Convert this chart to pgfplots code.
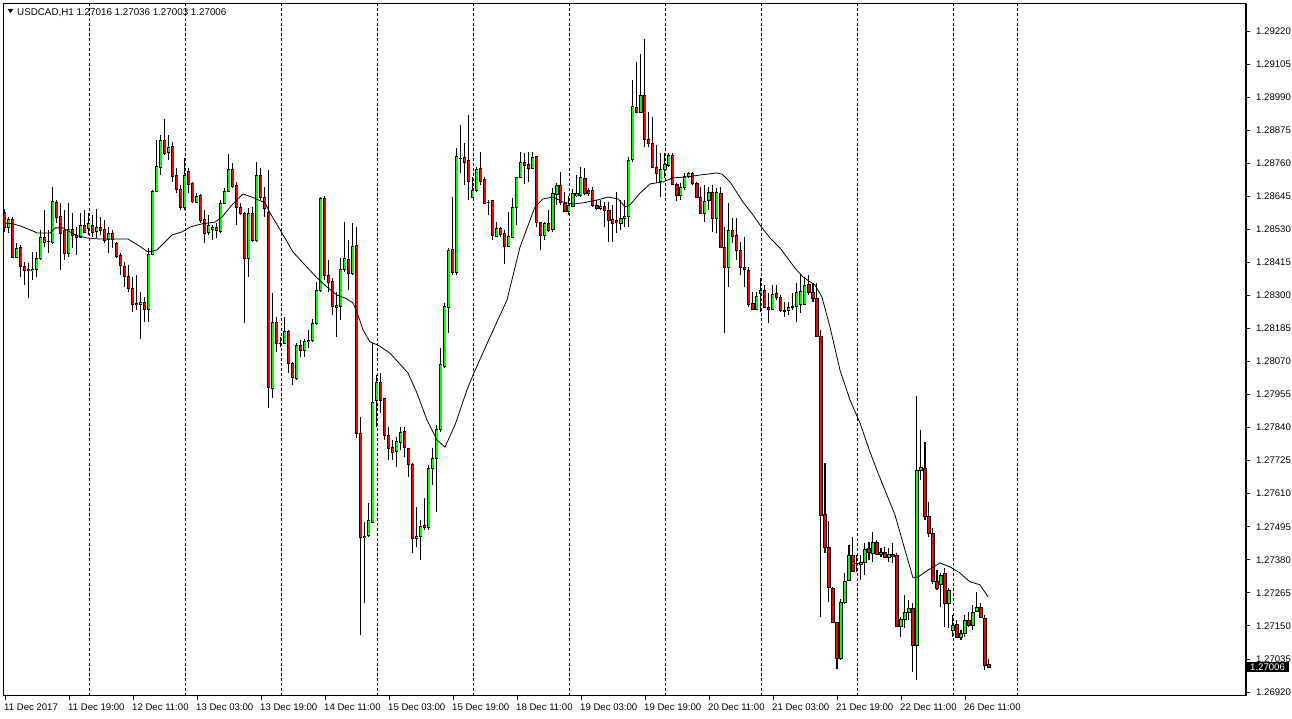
\documentclass[border=0pt]{standalone}
\usepackage{fontspec}
\setmainfont{Liberation Sans}
\usepackage{pgfplots}
\usepackage{pgfplotstable}
\pgfplotsset{compat=1.18}
\definecolor{bull}{RGB}{0,255,0}
\definecolor{bear}{RGB}{255,0,0}
\pgfplotstableread{
i o h l c
0 1.28590 1.28601 1.28521 1.28538
1 1.28538 1.28573 1.28517 1.28566
2 1.28566 1.28573 1.28430 1.28434
3 1.28434 1.28482 1.28430 1.28465
4 1.28465 1.28475 1.28364 1.28399
5 1.28399 1.28416 1.28336 1.28385
6 1.28392 1.28413 1.28294 1.28388
7 1.28388 1.28451 1.28354 1.28392
8 1.28392 1.28451 1.28364 1.28430
9 1.28430 1.28528 1.28423 1.28503
10 1.28503 1.28597 1.28468 1.28486
11 1.28489 1.28528 1.28448 1.28488
12 1.28486 1.28677 1.28482 1.28629
13 1.28625 1.28632 1.28552 1.28573
14 1.28576 1.28622 1.28388 1.28517
15 1.28528 1.28597 1.28423 1.28448
16 1.28448 1.28622 1.28434 1.28531
17 1.28531 1.28587 1.28468 1.28510
18 1.28510 1.28538 1.28441 1.28503
19 1.28503 1.28587 1.28500 1.28545
20 1.28545 1.28597 1.28517 1.28521
21 1.28535 1.28587 1.28510 1.28552
22 1.28545 1.28580 1.28503 1.28521
23 1.28521 1.28601 1.28503 1.28535
24 1.28535 1.28573 1.28510 1.28524
25 1.28531 1.28562 1.28482 1.28493
26 1.28493 1.28538 1.28448 1.28517
27 1.28517 1.28528 1.28465 1.28496
28 1.28482 1.28486 1.28430 1.28434
29 1.28437 1.28448 1.28371 1.28402
30 1.28402 1.28416 1.28329 1.28368
31 1.28368 1.28406 1.28312 1.28326
32 1.28326 1.28364 1.28242 1.28270
33 1.28274 1.28371 1.28249 1.28270
34 1.28270 1.28312 1.28148 1.28277
35 1.28277 1.28294 1.28207 1.28253
36 1.28253 1.28465 1.28207 1.28444
37 1.28444 1.28667 1.28441 1.28663
38 1.28663 1.28841 1.28660 1.28750
39 1.28747 1.28858 1.28719 1.28841
40 1.28841 1.28914 1.28789 1.28796
41 1.28796 1.28858 1.28771 1.28816
42 1.28820 1.28834 1.28695 1.28716
43 1.28716 1.28743 1.28656 1.28670
44 1.28670 1.28684 1.28597 1.28608
45 1.28608 1.28778 1.28597 1.28719
46 1.28733 1.28743 1.28656 1.28688
47 1.28691 1.28695 1.28622 1.28625
48 1.28625 1.28656 1.28622 1.28646
49 1.28649 1.28656 1.28555 1.28562
50 1.28566 1.28597 1.28482 1.28517
51 1.28517 1.28580 1.28510 1.28542
52 1.28531 1.28545 1.28493 1.28538
53 1.28535 1.28555 1.28500 1.28524
54 1.28524 1.28632 1.28517 1.28622
55 1.28622 1.28674 1.28620 1.28663
56 1.28663 1.28792 1.28660 1.28740
57 1.28740 1.28761 1.28674 1.28681
58 1.28684 1.28695 1.28545 1.28608
59 1.28608 1.28622 1.28580 1.28587
60 1.28587 1.28590 1.28204 1.28430
61 1.28430 1.28604 1.28364 1.28587
62 1.28587 1.28608 1.28486 1.28493
63 1.28493 1.28764 1.28486 1.28716
64 1.28716 1.28743 1.28632 1.28642
65 1.28642 1.28677 1.28573 1.28604
66 1.28590 1.28736 1.27908 1.27978
67 1.27978 1.28308 1.27943 1.28207
68 1.28207 1.28225 1.28103 1.28134
69 1.28134 1.28155 1.28120 1.28132
70 1.28134 1.28225 1.28130 1.28176
71 1.28176 1.28180 1.28033 1.28065
72 1.28065 1.28068 1.27988 1.28016
73 1.28013 1.28134 1.28006 1.28127
74 1.28127 1.28145 1.28086 1.28110
75 1.28110 1.28148 1.28086 1.28141
76 1.28141 1.28180 1.28117 1.28145
77 1.28145 1.28221 1.28138 1.28204
78 1.28204 1.28347 1.28197 1.28319
79 1.28319 1.28642 1.28312 1.28636
80 1.28636 1.28646 1.28354 1.28371
81 1.28371 1.28423 1.28312 1.28347
82 1.28347 1.28361 1.28232 1.28260
83 1.28260 1.28312 1.28155 1.28267
84 1.28263 1.28430 1.28214 1.28392
85 1.28392 1.28555 1.28381 1.28430
86 1.28427 1.28493 1.28319 1.28378
87 1.28378 1.28552 1.28371 1.28472
88 1.28475 1.28538 1.27804 1.27821
89 1.27821 1.27877 1.27118 1.27459
90 1.27459 1.27511 1.27230 1.27463
91 1.27466 1.27578 1.27459 1.27518
92 1.27511 1.28134 1.27508 1.27929
93 1.27936 1.28023 1.27842 1.27999
94 1.27999 1.28030 1.27891 1.27936
95 1.27943 1.27946 1.27797 1.27814
96 1.27814 1.27842 1.27727 1.27769
97 1.27772 1.27797 1.27727 1.27755
98 1.27755 1.27807 1.27703 1.27790
99 1.27790 1.27842 1.27762 1.27825
100 1.27825 1.27842 1.27738 1.27769
101 1.27769 1.27770 1.27668 1.27713
102 1.27713 1.27717 1.27404 1.27456
103 1.27456 1.27564 1.27424 1.27463
104 1.27463 1.27518 1.27379 1.27498
105 1.27501 1.27595 1.27484 1.27494
106 1.27494 1.27710 1.27484 1.27699
107 1.27699 1.27769 1.27640 1.27734
108 1.27734 1.27849 1.27546 1.27835
109 1.27832 1.28117 1.27825 1.28058
110 1.28051 1.28274 1.28047 1.28260
111 1.28260 1.28465 1.28169 1.28458
112 1.28458 1.28642 1.28371 1.28378
113 1.28378 1.28813 1.28371 1.28782
114 1.28778 1.28893 1.28726 1.28776
115 1.28782 1.28830 1.28684 1.28764
116 1.28771 1.28928 1.28632 1.28698
117 1.28642 1.28712 1.28639 1.28667
118 1.28667 1.28747 1.28660 1.28740
119 1.28743 1.28799 1.28684 1.28698
120 1.28705 1.28712 1.28620 1.28622
121 1.28625 1.28632 1.28580 1.28623
122 1.28629 1.28632 1.28493 1.28507
123 1.28507 1.28555 1.28503 1.28535
124 1.28535 1.28538 1.28503 1.28514
125 1.28517 1.28528 1.28409 1.28472
126 1.28472 1.28590 1.28468 1.28507
127 1.28503 1.28639 1.28500 1.28608
128 1.28608 1.28714 1.28545 1.28712
129 1.28712 1.28799 1.28709 1.28764
130 1.28764 1.28796 1.28688 1.28754
131 1.28757 1.28799 1.28695 1.28743
132 1.28743 1.28799 1.28740 1.28782
133 1.28782 1.28785 1.28538 1.28552
134 1.28552 1.28555 1.28458 1.28510
135 1.28507 1.28555 1.28493 1.28549
136 1.28552 1.28597 1.28521 1.28528
137 1.28528 1.28674 1.28521 1.28656
138 1.28653 1.28691 1.28615 1.28684
139 1.28684 1.28729 1.28615 1.28622
140 1.28622 1.28660 1.28590 1.28594
141 1.28594 1.28649 1.28580 1.28615
142 1.28611 1.28670 1.28608 1.28653
143 1.28649 1.28719 1.28642 1.28656
144 1.28649 1.28747 1.28642 1.28709
145 1.28709 1.28743 1.28649 1.28656
146 1.28667 1.28674 1.28649 1.28656
147 1.28667 1.28677 1.28608 1.28615
148 1.28615 1.28632 1.28597 1.28604
149 1.28604 1.28632 1.28597 1.28611
150 1.28611 1.28625 1.28538 1.28597
151 1.28597 1.28625 1.28486 1.28562
152 1.28566 1.28615 1.28486 1.28552
153 1.28562 1.28660 1.28517 1.28552
154 1.28552 1.28632 1.28528 1.28569
155 1.28569 1.28632 1.28538 1.28576
156 1.28576 1.28782 1.28538 1.28771
157 1.28771 1.29050 1.28764 1.28956
158 1.28956 1.29112 1.28935 1.28938
159 1.28938 1.29140 1.28935 1.28997
160 1.28997 1.29192 1.28816 1.28844
161 1.28844 1.28938 1.28816 1.28830
162 1.28830 1.28921 1.28743 1.28747
163 1.28747 1.28823 1.28691 1.28726
164 1.28695 1.28796 1.28642 1.28736
165 1.28740 1.28796 1.28709 1.28757
166 1.28754 1.28796 1.28747 1.28789
167 1.28789 1.28796 1.28684 1.28688
168 1.28688 1.28691 1.28629 1.28649
169 1.28649 1.28691 1.28632 1.28677
170 1.28677 1.28726 1.28667 1.28716
171 1.28716 1.28729 1.28709 1.28726
172 1.28726 1.28729 1.28684 1.28691
173 1.28691 1.28695 1.28639 1.28642
174 1.28642 1.28677 1.28583 1.28587
175 1.28587 1.28684 1.28555 1.28629
176 1.28629 1.28677 1.28597 1.28660
177 1.28660 1.28684 1.28521 1.28569
178 1.28569 1.28674 1.28517 1.28660
179 1.28656 1.28677 1.28465 1.28468
180 1.28468 1.28538 1.28169 1.28399
181 1.28399 1.28622 1.28329 1.28528
182 1.28528 1.28569 1.28482 1.28507
183 1.28510 1.28569 1.28423 1.28455
184 1.28458 1.28486 1.28371 1.28399
185 1.28399 1.28503 1.28329 1.28392
186 1.28388 1.28399 1.28260 1.28270
187 1.28274 1.28312 1.28249 1.28253
188 1.28253 1.28312 1.28249 1.28298
189 1.28308 1.28361 1.28242 1.28319
190 1.28319 1.28336 1.28256 1.28260
191 1.28260 1.28308 1.28204 1.28253
192 1.28253 1.28336 1.28249 1.28305
193 1.28308 1.28336 1.28284 1.28294
194 1.28294 1.28301 1.28242 1.28249
195 1.28249 1.28277 1.28225 1.28247
196 1.28249 1.28277 1.28232 1.28260
197 1.28260 1.28308 1.28249 1.28262
198 1.28263 1.28343 1.28207 1.28312
199 1.28270 1.28371 1.28239 1.28315
200 1.28270 1.28364 1.28267 1.28336
201 1.28340 1.28371 1.28301 1.28312
202 1.28312 1.28343 1.28277 1.28291
203 1.28291 1.28343 1.28155 1.28159
204 1.28159 1.28180 1.27181 1.27536
205 1.27536 1.27717 1.27404 1.27424
206 1.27424 1.27518 1.27233 1.27282
207 1.27282 1.27284 1.27160 1.27163
208 1.27163 1.27165 1.27000 1.27038
209 1.27038 1.27244 1.27031 1.27233
210 1.27233 1.27334 1.27226 1.27306
211 1.27310 1.27431 1.27306 1.27397
212 1.27397 1.27459 1.27337 1.27341
213 1.27369 1.27397 1.27337 1.27367
214 1.27365 1.27397 1.27310 1.27372
215 1.27372 1.27438 1.27327 1.27418
216 1.27418 1.27442 1.27379 1.27404
217 1.27404 1.27477 1.27372 1.27442
218 1.27442 1.27449 1.27397 1.27400
219 1.27400 1.27421 1.27390 1.27407
220 1.27407 1.27424 1.27386 1.27390
221 1.27390 1.27421 1.27372 1.27400
222 1.27400 1.27438 1.27369 1.27393
223 1.27397 1.27404 1.27146 1.27150
224 1.27150 1.27181 1.27111 1.27174
225 1.27174 1.27257 1.27143 1.27198
226 1.27198 1.27240 1.27170 1.27212
227 1.27212 1.27230 1.26989 1.27083
228 1.27083 1.27950 1.26962 1.27692
229 1.27692 1.27832 1.27658 1.27703
230 1.27699 1.27790 1.27518 1.27529
231 1.27529 1.27581 1.27459 1.27470
232 1.27470 1.27491 1.27296 1.27306
233 1.27306 1.27344 1.27275 1.27282
234 1.27296 1.27337 1.27216 1.27327
235 1.27331 1.27351 1.27146 1.27230
236 1.27230 1.27282 1.27143 1.27275
237 1.27136 1.27188 1.27111 1.27153
238 1.27153 1.27170 1.27108 1.27111
239 1.27111 1.27136 1.27101 1.27125
240 1.27125 1.27188 1.27111 1.27170
241 1.27170 1.27198 1.27146 1.27153
242 1.27153 1.27223 1.27136 1.27198
243 1.27202 1.27268 1.27198 1.27216
244 1.27216 1.27230 1.27177 1.27181
245 1.27177 1.27188 1.26996 1.27014
246 1.27016 1.27036 1.27003 1.27006
}\ohlc
\begin{document}
\begin{tikzpicture}
\useasboundingbox (0pt,0pt) rectangle (1292pt,719pt);
\fill[white] (0pt,0pt) rectangle (1292pt,719pt);
\begin{axis}[
  at={(4pt,23pt)}, anchor=south west,
  scale only axis, width=1242pt, height=692pt,
  xmin=-0.25, xmax=310.25, ymin=1.269059, ymax=1.293141,
  axis line style={black, line width=1pt},
  tick align=outside, major tick length=4pt,
  tick style={black, line width=0.8pt},
  xtick pos=lower, ytick pos=upper, yticklabel pos=upper,
  scaled y ticks=false, scaled x ticks=false,
  xtick={0,16,32,48,64,80,96,112,128,144,160,176,192,208,224,240},
  xticklabels={11 Dec 2017,11 Dec 19:00,12 Dec 11:00,13 Dec 03:00,13 Dec 19:00,14 Dec 11:00,15 Dec 03:00,15 Dec 19:00,18 Dec 11:00,19 Dec 03:00,19 Dec 19:00,20 Dec 11:00,21 Dec 03:00,21 Dec 19:00,22 Dec 11:00,26 Dec 11:00},
  ytick={1.26920,1.27035,1.27150,1.27265,1.27380,1.27495,1.27610,1.27725,1.27840,1.27955,1.28070,1.28185,1.28300,1.28415,1.28530,1.28645,1.28760,1.28875,1.28990,1.29105,1.29220},
  yticklabels={1.26920,1.27035,1.27150,1.27265,1.27380,1.27495,1.27610,1.27725,1.27840,1.27955,1.28070,1.28185,1.28300,1.28415,1.28530,1.28645,1.28760,1.28875,1.28990,1.29105,1.29220},
  xticklabel style={anchor=north west, inner sep=0pt, xshift=-1pt, yshift=-4pt, font=\fontsize{9.6}{10}\selectfont},
  yticklabel style={anchor=west, inner sep=0pt, xshift=6pt, font=\fontsize{9.6}{10}\selectfont},
  extra x ticks={21,45,69,93,117,141,165,189,213,237,253},
  extra x tick labels={},
  extra x tick style={grid=major, major tick length=0pt, major grid style={black, line width=0.8pt, dash pattern=on 3pt off 2pt}},
]
% wicks
\addplot[forget plot, draw=none, mark=none, error bars/.cd, y dir=both, y explicit, error mark=none,
  error bar style={draw=black, line width=1pt}]
  table[x=i, y expr={(\thisrow{h}+\thisrow{l})/2}, y error expr={(\thisrow{h}-\thisrow{l})/2}] {\ohlc};
% body outlines
\addplot[forget plot, draw=none, mark=none, error bars/.cd, y dir=both, y explicit, error mark=none,
  error bar style={draw=black, line width=3pt}]
  table[x=i, y expr={(\thisrow{o}+\thisrow{c})/2}, y error expr={abs(\thisrow{o}-\thisrow{c})/2+0.0000174}] {\ohlc};
% bullish fill
\addplot[forget plot, draw=none, mark=none, error bars/.cd, y dir=both, y explicit, error mark=none,
  error bar style={draw=bull, line width=1.2pt}]
  table[x=i, y expr={(\thisrow{o}+\thisrow{c})/2}, y error expr={max((\thisrow{c}-\thisrow{o})/2-0.0000174,0)}] {\ohlc};
% bearish fill
\addplot[forget plot, draw=none, mark=none, error bars/.cd, y dir=both, y explicit, error mark=none,
  error bar style={draw=bear, line width=1.2pt}]
  table[x=i, y expr={(\thisrow{o}+\thisrow{c})/2}, y error expr={max((\thisrow{o}-\thisrow{c})/2-0.0000174,0)}] {\ohlc};
% moving average
\addplot[black, line width=0.8pt, mark=none] coordinates {
(0,1.28552) (2,1.28549) (3.75,1.28542) (5.75,1.28531) (7,1.28524) (8,1.28517) (11.25,1.28517) (12.5,1.28535) (14.5,1.28535) (16.75,1.28517) (18.25,1.28507) (20.5,1.28500) (23.75,1.28496) (27.5,1.28496) (30.75,1.28496) (33.25,1.28475) (35.75,1.28451) (38,1.28458) (40,1.28486) (41.75,1.28510) (44.25,1.28521) (46.25,1.28538) (49.25,1.28549) (52.5,1.28555) (54.25,1.28573) (56.75,1.28615) (59.5,1.28653) (61.75,1.28642) (65,1.28622) (66.25,1.28587) (69.25,1.28517) (72,1.28451) (74.5,1.28413) (78,1.28361) (80.5,1.28329) (83,1.28301) (85,1.28291) (87,1.28274) (88,1.28242) (89.5,1.28180) (91.25,1.28138) (93.25,1.28127) (96.25,1.28099) (100.75,1.28030) (103,1.27960) (105.5,1.27866) (108,1.27797) (110,1.27772) (112.5,1.27849) (115.5,1.27971) (117,1.28023) (121.25,1.28155) (125.5,1.28284) (128.75,1.28468) (132.5,1.28608) (134.5,1.28636) (137,1.28642) (139.5,1.28625) (142,1.28618) (144.5,1.28622) (148,1.28632) (150.75,1.28642) (153.25,1.28636) (155,1.28608) (156.25,1.28615) (158.75,1.28656) (161.25,1.28688) (164.5,1.28695) (167,1.28709) (170.5,1.28712) (173.75,1.28719) (178,1.28726) (179.25,1.28722) (181.25,1.28695) (184.5,1.28625) (187,1.28580) (189.25,1.28535) (191.25,1.28500) (193.75,1.28465) (197.5,1.28395) (199.5,1.28364) (202.5,1.28336) (204.25,1.28294) (206.25,1.28190) (208.75,1.28040) (211.25,1.27936) (213.75,1.27856) (216.25,1.27755) (218.25,1.27682) (222.5,1.27536) (225,1.27414) (227,1.27317) (228.25,1.27320) (230.75,1.27344) (233.75,1.27369) (236.25,1.27355) (238.75,1.27334) (241.25,1.27303) (243.75,1.27293) (245.75,1.27251)
};
\coordinate (lastp) at (axis cs:310.25,1.27006);
\end{axis}
\node[anchor=west, fill=black, text=white, inner xsep=4pt, inner ysep=1.5pt, font=\fontsize{9.6}{10}\selectfont] at (lastp) {1.27006};
\fill[black] (7.5pt,710pt) -- (13.5pt,710pt) -- (10.5pt,706pt) -- cycle;
\node[anchor=base west, inner sep=0pt, font=\fontsize{9.8}{11}\selectfont] at (17pt,703pt) {USDCAD,H1 1.27016 1.27036 1.27003 1.27006};
\end{tikzpicture}
\end{document}
